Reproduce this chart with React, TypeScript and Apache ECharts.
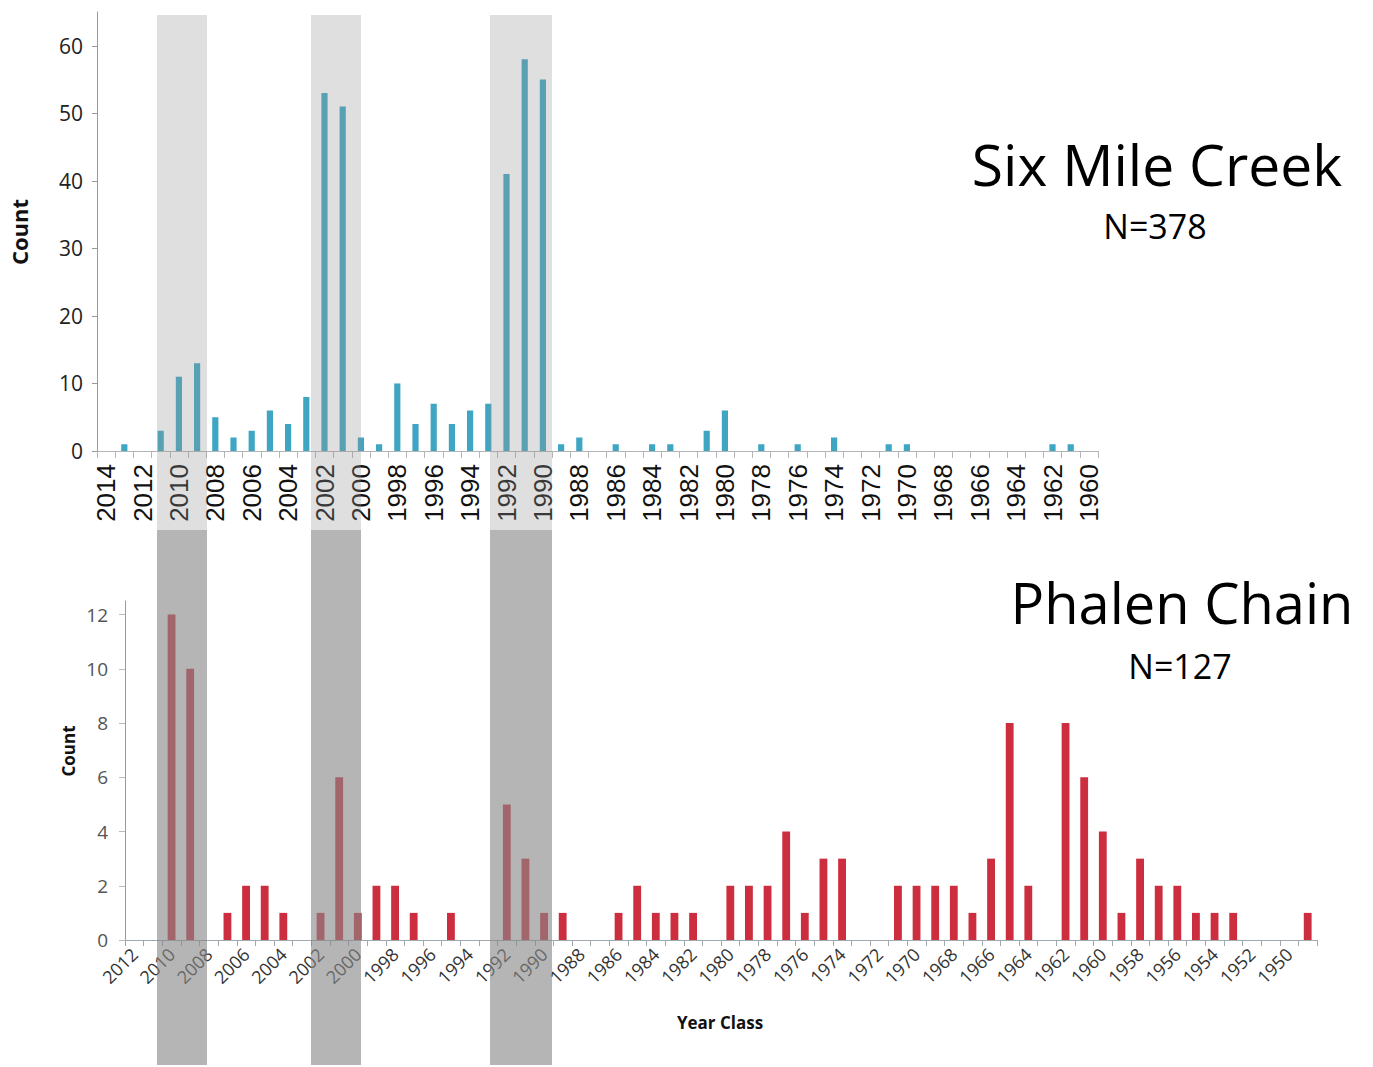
import React, { useEffect, useRef } from "react";
import * as echarts from "echarts";

const topYears = ["2014","2013","2012","2011","2010","2009","2008","2007","2006","2005","2004","2003","2002","2001","2000","1999","1998","1997","1996","1995","1994","1993","1992","1991","1990","1989","1988","1987","1986","1985","1984","1983","1982","1981","1980","1979","1978","1977","1976","1975","1974","1973","1972","1971","1970","1969","1968","1967","1966","1965","1964","1963","1962","1961","1960"];
const topCounts = [0,1,0,3,11,13,5,2,3,6,4,8,53,51,2,1,10,4,7,4,6,7,41,58,55,1,2,0,1,0,1,1,0,3,6,0,1,0,1,0,2,0,0,1,1,0,0,0,0,0,0,0,1,1,0];
const topTicks = [0,10,20,30,40,50,60];

const bottomYears = ["2012","2011","2010","2009","2008","2007","2006","2005","2004","2003","2002","2001","2000","1999","1998","1997","1996","1995","1994","1993","1992","1991","1990","1989","1988","1987","1986","1985","1984","1983","1982","1981","1980","1979","1978","1977","1976","1975","1974","1973","1972","1971","1970","1969","1968","1967","1966","1965","1964","1963","1962","1961","1960","1959","1958","1957","1956","1955","1954","1953","1952","1951","1950","1949"];
const bottomCounts = [0,0,12,10,0,1,2,2,1,0,1,6,1,2,2,1,0,1,0,0,5,3,1,1,0,0,1,2,1,1,1,0,2,2,2,4,1,3,3,0,0,2,2,2,2,1,3,8,2,0,8,6,4,1,3,2,2,1,1,1,0,0,0,1];
const bottomTicks = [0,2,4,6,8,10,12];

const topTitle = "Six Mile Creek";
const topN = "N=378";
const bottomTitle = "Phalen Chain";
const bottomN = "N=127";

const FONT = "'Open Sans', 'Noto Sans', sans-serif";

export default function App() {
  const ref = useRef<HTMLDivElement>(null);
  useEffect(() => {
    if (!ref.current) return;
    const chart = echarts.init(ref.current, null, { renderer: "svg", width: 1373, height: 1067 });
    const bandXs = [[157, 207], [311, 361], [490, 552]];
    const bands: any[] = [];
    bandXs.forEach(([a, b]) => {
      bands.push({ type: "rect", z: 100, silent: true, shape: { x: a, y: 15, width: b - a, height: 515 }, style: { fill: "rgba(150,150,150,0.3)" } });
      bands.push({ type: "rect", z: 100, silent: true, shape: { x: a, y: 530, width: b - a, height: 535 }, style: { fill: "rgba(135,135,135,0.62)" } });
    });
    const option: any = {
      animation: false,
      backgroundColor: "#ffffff",
      grid: [
        { left: 97, top: 12, width: 1001, height: 439 },
        { left: 125, top: 601, width: 1192, height: 339 },
      ],
      xAxis: [
        {
          type: "category", gridIndex: 0, data: topYears,
          axisLine: { lineStyle: { color: "#b5b5b5", width: 1 } },
          axisTick: { show: true, interval: 0, length: 7, lineStyle: { color: "#b5b5b5" } },
          axisLabel: { interval: 1, rotate: 90, fontFamily: "'Liberation Sans', Arial, sans-serif", fontSize: 26, color: "#111", margin: 13 },
        },
        {
          type: "category", gridIndex: 1, data: bottomYears,
          axisLine: { lineStyle: { color: "#a0a8b0", width: 1 } },
          axisTick: { show: true, interval: 0, length: 6, lineStyle: { color: "#a0a8b0" } },
          axisLabel: { interval: 1, rotate: 45, fontFamily: FONT, fontSize: 18, color: "#333", margin: 11 },
        },
      ],
      yAxis: [
        {
          type: "value", gridIndex: 0, min: 0, max: 65, interval: 10,
          axisLine: { show: true, lineStyle: { color: "#999" } },
          axisTick: { show: true, length: 5, lineStyle: { color: "#999" }, customValues: topTicks },
          axisLabel: { fontFamily: FONT, fontSize: 21, color: "#222", margin: 14, customValues: topTicks },
          splitLine: { show: false },
        },
        {
          type: "value", gridIndex: 1, min: 0, max: 12.5, interval: 2,
          axisLine: { show: true, lineStyle: { color: "#999" } },
          axisTick: { show: true, length: 6, lineStyle: { color: "#bbb" }, customValues: bottomTicks },
          axisLabel: { fontFamily: FONT, fontSize: 19, color: "#555", margin: 17, customValues: bottomTicks },
          splitLine: { show: false },
        },
      ],
      series: [
        { type: "bar", xAxisIndex: 0, yAxisIndex: 0, data: topCounts, barWidth: "34%", itemStyle: { color: "#3ea6c3" } },
        { type: "bar", xAxisIndex: 1, yAxisIndex: 1, data: bottomCounts, barWidth: "42%", itemStyle: { color: "#cc2e40" } },
      ],
      graphic: [
        { type: "text", x: 19, y: 232, rotation: Math.PI / 2, style: { text: "Count", fontFamily: FONT, fontWeight: "bold", fontSize: 22, fill: "#111", align: "center", verticalAlign: "middle" } },
        { type: "text", x: 68, y: 751, rotation: Math.PI / 2, style: { text: "Count", fontFamily: FONT, fontWeight: "bold", fontSize: 17, fill: "#111", align: "center", verticalAlign: "middle" } },
        { type: "text", x: 720, y: 1022, style: { text: "Year Class", fontFamily: FONT, fontWeight: "bold", fontSize: 17, fill: "#111", align: "center", verticalAlign: "middle" } },
        { type: "text", x: 1157, y: 164, style: { text: topTitle, fontFamily: FONT, fontSize: 57, fill: "#000", align: "center", verticalAlign: "middle" } },
        { type: "text", x: 1155, y: 226, style: { text: topN, fontFamily: FONT, fontSize: 34, fill: "#000", align: "center", verticalAlign: "middle" } },
        { type: "text", x: 1182, y: 602, style: { text: bottomTitle, fontFamily: FONT, fontSize: 56, fill: "#000", align: "center", verticalAlign: "middle" } },
        { type: "text", x: 1180, y: 666, style: { text: bottomN, fontFamily: FONT, fontSize: 34, fill: "#000", align: "center", verticalAlign: "middle" } },
        ...bands,
      ],
    };
    chart.setOption(option);
    return () => chart.dispose();
  }, []);
  return <div ref={ref} style={{ position: "absolute", left: 0, top: 0, width: 1373, height: 1067 }} />;
}
